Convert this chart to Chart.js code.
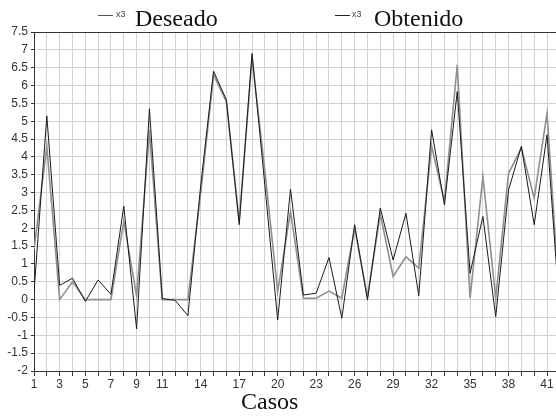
<!DOCTYPE html>
<html>
<head>
<meta charset="utf-8">
<script src="https://cdn.jsdelivr.net/npm/chart.js@4/dist/chart.umd.min.js"></script>
<style>
  body { margin: 0; background: #fff; }
  #caja { position: relative; width: 556px; height: 418px; overflow: hidden; }
  #plot1 { position: absolute; left: 0; top: 0; }
  .serif { position: absolute; font-family: "Liberation Serif", "Times New Roman", serif; font-size: 24px; color: #111; line-height: 1; white-space: nowrap; }
  .linea { position: absolute; height: 1px; width: 15px; }
  .x3 { position: absolute; font-family: "Liberation Sans", Arial, sans-serif; font-size: 9px; color: #444; line-height: 1; }
</style>
</head>
<body>
<div id="caja">
  <canvas id="plot1" width="556" height="418"></canvas>
  <div class="linea" style="left:98px; top:15px; background:#555;"></div>
  <div class="x3" style="left:116px; top:10px;">x3</div>
  <div class="serif" style="left:135px; top:6px;">Deseado</div>
  <div class="linea" style="left:335px; top:15px; background:#222;"></div>
  <div class="x3" style="left:352px; top:10px;">x3</div>
  <div class="serif" style="left:374px; top:6px;">Obtenido</div>
  <div class="serif" style="left:241px; top:389px;">Casos</div>
</div>
<script>
var casos = [1, 2, 3, 4, 5, 6, 7, 8, 9, 10, 11, 12, 13, 14, 15, 16, 17, 18, 19, 20, 21,
             22, 23, 24, 25, 26, 27, 28, 29, 30, 31, 32, 33, 34, 35, 36, 37, 38, 39, 40, 41, 42];

var deseado = [1.4, 4.3, 0.0, 0.5, 0.0, 0.0, 0.0, 2.2, 0.1, 4.75, 0.0, 0.0, 0.0, 3.0,
               6.3, 5.55, 2.2, 6.78, 3.6, 0.22, 2.47, 0.04, 0.04, 0.24, 0.04, 2.0, 0.08,
               2.4, 0.65, 1.2, 0.88, 4.3, 2.75, 6.58, 0.04, 3.45, 0.04, 3.54, 4.25, 2.84,
               5.22, -0.2];

var obtenido = [0.2, 5.15, 0.4, 0.6, -0.05, 0.55, 0.15, 2.62, -0.82, 5.35, 0.03, -0.02,
                -0.45, 3.2, 6.4, 5.6, 2.1, 6.9, 3.2, -0.57, 3.1, 0.13, 0.18, 1.18, -0.52,
                2.1, -0.01, 2.57, 1.11, 2.42, 0.11, 4.76, 2.66, 5.83, 0.74, 2.33, -0.48,
                3.07, 4.3, 2.1, 4.62, -0.4];

var etiquetas_x = [1, 3, 5, 7, 9, 11, 14, 17, 20, 23, 26, 29, 32, 35, 38, 41];

function puntos(valores) {
    return casos.map(function (c, i) { return { x: c, y: valores[i] }; });
}

var fuente_ticks = { family: '"Liberation Sans Narrow", "Liberation Sans", Arial, sans-serif', size: 12 };

var dados =
{
    type: 'line',
    data:
    {
        datasets:
            [
                {
                    label: 'Obtenido',
                    data: puntos(obtenido),
                    borderColor: '#1a1a1a',
                    borderWidth: 1,
                    pointRadius: 0,
                    tension: 0,
                    order: 0
                },
                {
                    label: 'Deseado',
                    data: puntos(deseado),
                    borderColor: '#8f8f8f',
                    borderWidth: 1.6,
                    pointRadius: 0,
                    tension: 0,
                    order: 1
                }
            ]
    },
    options:
    {
        responsive: false,
        animation: false,
        layout: { padding: { top: 32, right: 0, bottom: 0, left: 0 } },
        plugins: { legend: { display: false }, tooltip: { enabled: false } },
        scales:
        {
            x:
            {
                type: 'linear',
                min: 1,
                max: 41.7,
                afterFit: function (s) { s.height = 47; },
                // una marca por caso, sin la del borde derecho
                afterBuildTicks: function (s) {
                    s.ticks = casos.filter(function (c) { return c <= 41; })
                                   .map(function (c) { return { value: c }; });
                },
                border: { color: '#333', width: 1 },
                grid: { color: '#d2d2d2', lineWidth: 1, tickLength: 5, tickColor: '#333' },
                ticks:
                {
                    autoSkip: false,
                    maxRotation: 0,
                    padding: 1,
                    color: '#333',
                    font: fuente_ticks,
                    callback: function (v) { return etiquetas_x.indexOf(v) >= 0 ? String(v) : ''; }
                }
            },
            y:
            {
                min: -2,
                max: 7.5,
                afterFit: function (s) { s.width = 34; },
                border: { color: '#333', width: 1 },
                grid:
                {
                    lineWidth: 1,
                    tickLength: 3,
                    tickColor: '#333',
                    color: function (ctx) { return ctx.tick && ctx.tick.value === 7.5 ? '#333' : '#d2d2d2'; }
                },
                ticks:
                {
                    stepSize: 0.5,
                    padding: 3,
                    color: '#333',
                    font: fuente_ticks,
                    callback: function (v) { return String(Math.round(v * 10) / 10); }
                }
            }
        }
    }
};
var grafico = new Chart(document.getElementById('plot1'), dados);
</script>
</body>
</html>
